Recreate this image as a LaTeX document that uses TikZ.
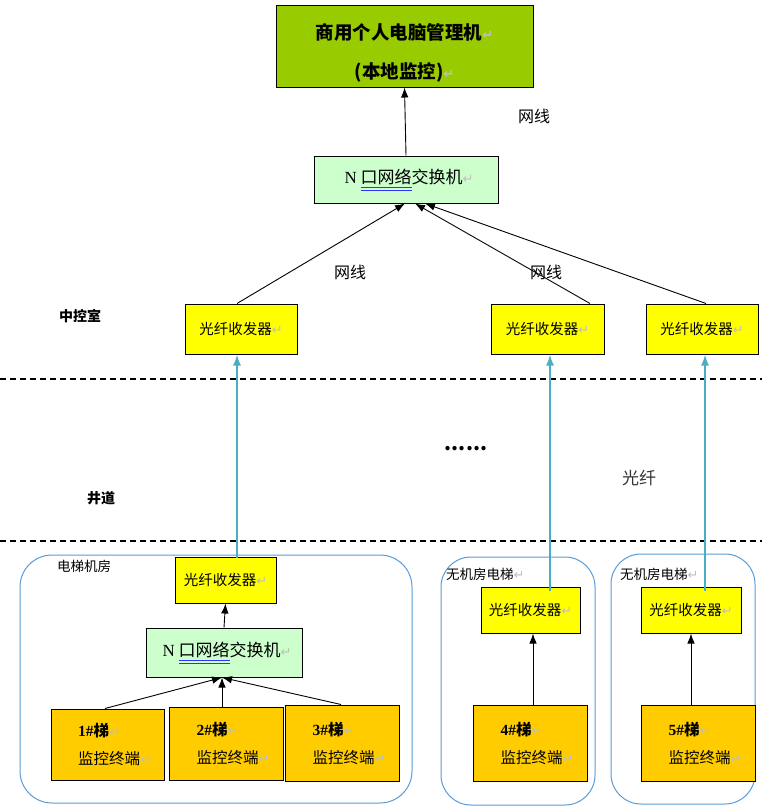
\documentclass[tikz,border=0pt]{standalone}
\usepackage{fontspec}
\setmainfont{Noto Sans CJK SC}
\newfontfamily\markfont{DejaVu Sans}
\newfontfamily\numfont{Liberation Serif}
\usetikzlibrary{arrows.meta}
\definecolor{pcgreen}{HTML}{99CC00}
\definecolor{swgreen}{HTML}{CCFFCC}
\definecolor{fibyellow}{HTML}{FFFF00}
\definecolor{termorange}{HTML}{FFCC00}
\definecolor{fibblue}{HTML}{4BACC6}
\definecolor{roomblue}{HTML}{5B9BD5}
\newcommand{\pmark}{{\markfont\color{gray!50}\fontsize{13}{13}\selectfont ↵}}
\newsavebox{\ulbox}
\newcommand{\dul}[1]{\sbox{\ulbox}{#1}%
  \rlap{\color{blue!80}\rule[-4.5pt]{\wd\ulbox}{0.6pt}}%
  \rlap{\color{blue!80}\rule[-7pt]{\wd\ulbox}{0.6pt}}\usebox{\ulbox}}
\newcommand{\lift}[1]{{\bfseries\numfont #1\#}\textbf{梯}\pmark}
\tikzset{
  box/.style={draw, line width=1pt, inner sep=0pt},
  pcbox/.style={box, fill=pcgreen, minimum width=257pt, minimum height=81pt},
  swbox/.style={box, fill=swgreen, minimum width=184pt, minimum height=47pt, font=\fontsize{17}{19}\selectfont},
  fib/.style={box, fill=fibyellow, minimum width=112pt, minimum height=50pt, font=\fontsize{14.5}{16}\selectfont},
  fibsmall/.style={fib, minimum width=100pt, minimum height=46pt},
  term/.style={box, fill=termorange, minimum width=114pt, minimum height=74pt, align=left, font=\fontsize{15.5}{17}\selectfont},
  room/.style={draw=roomblue, line width=1pt, rounded corners=32pt},
  roomlbl/.style={font=\fontsize{13.5}{15}\selectfont, anchor=west, inner sep=0pt},
  lbl/.style={font=\fontsize{16}{18}\selectfont, inner sep=0pt},
  zone/.style={font=\fontsize{14}{16}\selectfont\bfseries, inner sep=0pt},
  net/.style={line width=0.9pt, ->},
  fiber/.style={draw=fibblue, line width=1.8pt, -{Latex[length=11pt,width=8pt]}}
}
\begin{document}
\begin{tikzpicture}[x=1pt,y=-1pt,>={Latex[length=10pt,width=7.5pt]}]
\useasboundingbox (0,0) rectangle (762,808);
%% central control room
\node[pcbox] (pc) at (404.5,46.5) {};
\node[align=center, inner sep=0pt, font=\fontsize{18.5}{39}\selectfont\bfseries] (pctxt) at ([yshift=-6pt]pc.center) {商用个人电脑管理机\pmark\\(本地监控)\pmark};
\node[swbox] (sw) at (406,179.5) {\hspace*{6pt}{\numfont N} \dul{口网络}交换机\pmark};
\node[fib] (fibA) at (241,329) {光纤收发器\pmark};
\node[fib, minimum width=113pt] (fibB) at (547.5,329) {光纤收发器\pmark};
\node[fib] (fibC) at (702,329) {光纤收发器\pmark};
\draw[net] (sw.north) -- (pc.south);
\draw[net] ([xshift=-4pt]fibA.north) -- ([xshift=-1pt]sw.south);
\draw[net] ([xshift=42.5pt]fibB.north) -- ([xshift=9pt]sw.south);
\draw[net] ([xshift=4pt]fibC.north) -- ([xshift=19pt]sw.south);
\node[lbl] (wA) at (534,116) {网线};
\node[lbl] (wB) at (350,272) {网线};
\node[lbl] (wC) at (546,272) {网线};
\node[zone] (ctrl) at (80,316) {中控室};
%% shaft
\draw[dash pattern=on 6pt off 4pt, line width=1.1pt] (0,379) -- (762,379);
\draw[dash pattern=on 6pt off 4pt, line width=1.1pt] (0,541) -- (762,541);
\node[zone] (shaft) at (101,498) {井道};
\node[font=\bfseries\fontsize{20}{20}\selectfont, inner sep=0pt] (dots) at (466,449) {......};
\node[lbl, font=\fontsize{17}{18}\selectfont, text=black!80] (fibtxt) at (639,478) {光纤};
%% machine room
\draw[room] (20,555) rectangle (412,803);
\node[roomlbl] (r1) at (57,566) {电梯机房};
\node[fibsmall, minimum width=101pt] (fibR1) at (225.5,580) {光纤收发器\pmark};
\node[swbox, minimum width=156pt, minimum height=49pt] (swR1) at (224,652.5) {\hspace*{6pt}{\numfont N} \dul{口网络}交换机\pmark};
\node[term, minimum width=113pt, minimum height=71pt] (t1) at (107.5,744.5) {\hspace*{14pt}\lift{1}\\[11pt]\hspace*{14pt}监控终端\pmark};
\node[term, minimum height=73pt] (t2) at (226,743.5) {\hspace*{14pt}\lift{2}\\[11pt]\hspace*{14pt}监控终端\pmark};
\node[term, minimum height=76pt] (t3) at (342,743) {\hspace*{14pt}\lift{3}\\[11pt]\hspace*{14pt}监控终端\pmark};
\draw[net] (swR1.north) -- (fibR1.south);
\draw[net] ([xshift=-2.5pt]t1.north) -- ([xshift=-2pt]swR1.south);
\draw[net] ([xshift=-4pt]t2.north) -- ([xshift=-2pt]swR1.south);
\draw[net] ([xshift=-1pt]t3.north) -- ([xshift=-2pt]swR1.south);
%% machine-room-less lifts
\draw[room, rounded corners=30pt] (441,557) rectangle (595,805);
\node[roomlbl] (r2) at (446,574) {无机房电梯\pmark};
\node[fibsmall, minimum width=99pt] (fibR2) at (530.5,610) {光纤收发器\pmark};
\node[term, minimum height=76pt] (t4) at (530,743) {\hspace*{14pt}\lift{4}\\[11pt]\hspace*{14pt}监控终端\pmark};
\draw[net] ([xshift=3pt]t4.north) -- ([xshift=2.5pt]fibR2.south);
\draw[room, rounded corners=30pt] (611,554) rectangle (755,804);
\node[roomlbl] (r3) at (620,574) {无机房电梯\pmark};
\node[fibsmall] (fibR3) at (691,610) {光纤收发器\pmark};
\node[term, minimum height=76pt] (t5) at (698,743) {\hspace*{14pt}\lift{5}\\[11pt]\hspace*{14pt}监控终端\pmark};
\draw[net] ([xshift=-7pt]t5.north) -- (fibR3.south);
%% fibres
\draw[fiber] ([xshift=11.5pt,yshift=-1pt]fibR1.north) -- ([xshift=-4pt]fibA.south);
\draw[fiber] ([xshift=19.5pt,yshift=-4pt]fibR2.north) -- ([xshift=2.5pt]fibB.south);
\draw[fiber] ([xshift=14pt,yshift=-4pt]fibR3.north) -- ([xshift=3pt]fibC.south);
\end{tikzpicture}
\end{document}
